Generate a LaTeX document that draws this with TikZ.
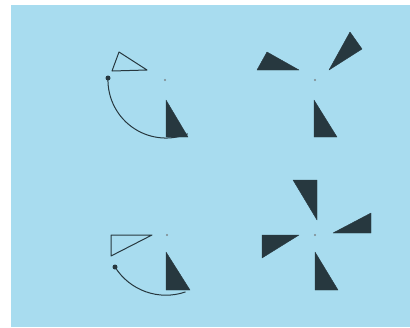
\documentclass[tikz,border=0pt]{standalone}
\usetikzlibrary{calc}
\definecolor{bg}{HTML}{A8DCEF}
\definecolor{ink}{HTML}{27383F}
\begin{document}
\begin{tikzpicture}[x=1pt,y=-1pt,
  blade/.style={fill=ink,draw=ink,line width=0.4pt,line join=round},
  outline/.style={draw=ink,line width=1pt,line join=round},
  hub/.style={fill=ink!60,draw=none}]
\useasboundingbox (0,0) rectangle (410,327);
\fill[white] (0,0) rectangle (410,327);
\fill[bg] (11,5) rectangle (410,327);
% top-left figure
\coordinate (c1) at (165,80);
\fill[hub] (c1) circle (1.2);
\draw[outline] (112,71) -- (119,52) -- (147,70) -- cycle;
\draw[outline] (108,78) arc[start angle=182,end angle=68,radius=58];
\fill[ink] (108,78) circle (2.5);
\fill[blade] (166,100) -- (166,137) -- (188,137) -- cycle;
% top-right figure
\coordinate (c2) at (315,80);
\fill[hub] (c2) circle (1.2);
\fill[blade] (257,70) -- (267,52) -- (299,70) -- cycle;
\fill[blade] (329,70) -- (350,32) -- (362,49) -- cycle;
\fill[blade] (314,100) -- (314,137) -- (337,137) -- cycle;
% bottom-left figure
\coordinate (c3) at (167,235);
\fill[hub] (c3) circle (1.2);
\draw[outline] (111,256) -- (111,235) -- (152,235) -- cycle;
\draw[outline] (115,267) arc[start angle=148,end angle=71,radius=60];
\fill[ink] (115,267) circle (2.5);
\fill[blade] (166,252) -- (166,290) -- (190,290) -- cycle;
% bottom-right figure
\coordinate (c4) at (315,235);
\fill[hub] (c4) circle (1.2);
\fill[blade] (293,180) -- (317,180) -- (317,220) -- cycle;
\fill[blade] (333,233) -- (371,213) -- (371,233) -- cycle;
\fill[blade] (262,235) -- (299,235) -- (262,258) -- cycle;
\fill[blade] (315,252) -- (315,290) -- (338,290) -- cycle;
\end{tikzpicture}
\end{document}
